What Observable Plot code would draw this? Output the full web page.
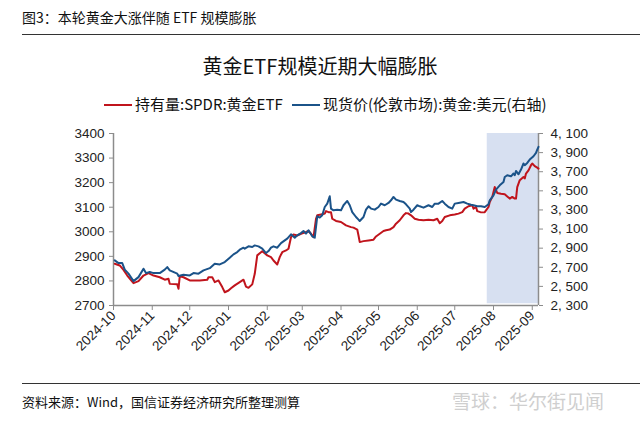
<!DOCTYPE html>
<html><head><meta charset="utf-8">
<script src="https://cdn.jsdelivr.net/npm/d3@7"></script>
<script src="https://cdn.jsdelivr.net/npm/@observablehq/plot@0.6"></script>
<style>
body{margin:0;background:#fff;width:640px;height:422px;position:relative;overflow:hidden;font-family:"Noto Sans CJK SC","Noto Sans",sans-serif;color:#111;}
#hdr{position:absolute;left:22px;top:7px;font-size:14px;line-height:20px;}
#hline{position:absolute;left:22px;top:34px;width:618px;border-top:1.5px solid #333;}
#ttl{position:absolute;left:0;width:640px;top:52px;text-align:center;font-size:20px;line-height:28px;}
.lg{position:absolute;top:94px;font-size:15px;line-height:20px;white-space:nowrap;}
.sw{display:inline-block;width:28px;height:0;border-top:2.5px solid;vertical-align:middle;margin-right:3px;position:relative;top:-1px;}
#chart{position:absolute;left:0;top:120px;}
#fline{position:absolute;left:22px;top:383px;width:618px;border-top:1.5px solid #333;}
#src{position:absolute;left:22px;top:392px;font-size:13px;line-height:20px;}
#wm{position:absolute;left:452px;top:389px;font-size:19px;line-height:24px;color:#cfcfcf;}
</style></head>
<body>
<div id="hdr"></div>
<div id="hline"></div>
<div id="ttl"></div>
<div class="lg" id="lg1" style="left:104px"></div>
<div class="lg" id="lg2" style="left:292px"></div>
<div id="chart"></div>
<div id="fline"></div>
<div id="src"></div>
<div id="wm"></div>
<script>
const headerText = "图3：本轮黄金大涨伴随 ETF 规模膨胀";
const titleText = "黄金ETF规模近期大幅膨胀";
const seriesNames = ["持有量:SPDR:黄金ETF", "现货价(伦敦市场):黄金:美元(右轴)"];
const seriesColors = ["#c0141c", "#1b5389"];
const sourceText = "资料来源：Wind，国信证券经济研究所整理测算";
const watermarkText = "雪球：华尔街见闻";

const xStart = "2024-10-01";
const xEnd = "2025-09-06";
const shadeStart = "2025-07-27";
const monthTicks = ["2024-10-01","2024-11-01","2024-12-01","2025-01-01","2025-02-01","2025-03-01","2025-04-01","2025-05-01","2025-06-01","2025-07-01","2025-08-01","2025-09-01"];
const leftTicks = [2700,2800,2900,3000,3100,3200,3300,3400];
const rightTicks = [2300,2500,2700,2900,3100,3300,3500,3700,3900,4100];

const holdDates = ["2024-10-02","2024-10-06","2024-10-09","2024-10-12","2024-10-17","2024-10-21","2024-10-25","2024-10-29","2024-11-02","2024-11-07","2024-11-11","2024-11-14","2024-11-15","2024-11-21","2024-11-22","2024-11-23","2024-11-26","2024-12-01","2024-12-09","2024-12-15","2024-12-16","2024-12-19","2024-12-21","2024-12-24","2024-12-27","2024-12-29","2025-01-01","2025-01-03","2025-01-06","2025-01-10","2025-01-13","2025-01-15","2025-01-17","2025-01-20","2025-01-22","2025-01-24","2025-01-28","2025-02-01","2025-02-04","2025-02-06","2025-02-09","2025-02-11","2025-02-13","2025-02-16","2025-02-18","2025-02-20","2025-02-22","2025-02-25","2025-02-28","2025-03-04","2025-03-06","2025-03-08","2025-03-10","2025-03-12","2025-03-13","2025-03-17","2025-03-19","2025-03-20","2025-03-22","2025-03-24","2025-03-25","2025-03-28","2025-04-01","2025-04-05","2025-04-09","2025-04-11","2025-04-14","2025-04-15","2025-04-16","2025-04-19","2025-04-23","2025-04-27","2025-04-29","2025-05-02","2025-05-05","2025-05-07","2025-05-10","2025-05-13","2025-05-15","2025-05-18","2025-05-21","2025-05-23","2025-05-25","2025-05-27","2025-05-30","2025-06-02","2025-06-06","2025-06-10","2025-06-14","2025-06-17","2025-06-19","2025-06-21","2025-06-23","2025-06-27","2025-07-01","2025-07-04","2025-07-07","2025-07-09","2025-07-12","2025-07-15","2025-07-16","2025-07-18","2025-07-19","2025-07-22","2025-07-25","2025-07-26","2025-07-28","2025-07-29","2025-07-31","2025-08-01","2025-08-02","2025-08-04","2025-08-07","2025-08-10","2025-08-12","2025-08-14","2025-08-16","2025-08-18","2025-08-19","2025-08-20","2025-08-22","2025-08-25","2025-08-26","2025-08-27","2025-08-29","2025-08-31","2025-09-01","2025-09-03","2025-09-05","2025-09-06"];
const holdValues = [2870,2863,2845,2822,2791,2799,2822,2832,2822,2815,2805,2809,2788,2786,2768,2819,2815,2802,2802,2805,2815,2815,2795,2802,2775,2754,2761,2770,2782,2795,2805,2777,2772,2786,2829,2904,2921,2904,2897,2883,2867,2897,2917,2924,2931,2978,2989,2985,2992,2999,3003,2992,2978,3053,3067,3071,3074,3084,3080,3080,3053,3044,3040,3026,3019,3017,3009,2985,2958,2962,2965,2968,2981,2992,3003,3006,3009,3019,3033,3047,3067,3076,3074,3067,3053,3049,3047,3049,3047,3053,3035,3044,3060,3067,3070,3074,3080,3094,3104,3108,3094,3101,3084,3079,3080,3087,3101,3121,3142,3162,3182,3158,3155,3153,3144,3135,3142,3135,3135,3182,3210,3223,3217,3237,3250,3271,3278,3267,3261,3257];

const spotDates = ["2024-10-02","2024-10-05","2024-10-08","2024-10-10","2024-10-13","2024-10-17","2024-10-21","2024-10-25","2024-10-27","2024-10-30","2024-11-02","2024-11-07","2024-11-11","2024-11-13","2024-11-15","2024-11-21","2024-11-22","2024-11-26","2024-12-01","2024-12-04","2024-12-08","2024-12-12","2024-12-17","2024-12-21","2024-12-25","2024-12-29","2025-01-02","2025-01-05","2025-01-08","2025-01-10","2025-01-13","2025-01-14","2025-01-17","2025-01-20","2025-01-22","2025-01-25","2025-01-28","2025-01-31","2025-02-02","2025-02-04","2025-02-06","2025-02-09","2025-02-12","2025-02-15","2025-02-17","2025-02-20","2025-02-23","2025-02-25","2025-02-28","2025-03-02","2025-03-04","2025-03-06","2025-03-09","2025-03-11","2025-03-13","2025-03-15","2025-03-17","2025-03-19","2025-03-21","2025-03-23","2025-03-24","2025-03-26","2025-03-29","2025-04-01","2025-04-03","2025-04-06","2025-04-08","2025-04-10","2025-04-13","2025-04-15","2025-04-16","2025-04-19","2025-04-21","2025-04-23","2025-04-25","2025-04-28","2025-05-01","2025-05-03","2025-05-06","2025-05-09","2025-05-11","2025-05-13","2025-05-15","2025-05-18","2025-05-21","2025-05-23","2025-05-26","2025-05-27","2025-05-29","2025-06-01","2025-06-03","2025-06-06","2025-06-10","2025-06-13","2025-06-15","2025-06-18","2025-06-21","2025-06-23","2025-06-26","2025-06-29","2025-07-01","2025-07-04","2025-07-08","2025-07-11","2025-07-14","2025-07-16","2025-07-19","2025-07-22","2025-07-25","2025-07-28","2025-07-29","2025-08-01","2025-08-03","2025-08-06","2025-08-09","2025-08-10","2025-08-12","2025-08-15","2025-08-17","2025-08-18","2025-08-19","2025-08-21","2025-08-23","2025-08-25","2025-08-26","2025-08-28","2025-08-30","2025-09-02","2025-09-04","2025-09-05","2025-09-06"];
const spotValues = [2772,2744,2744,2675,2633,2555,2597,2685,2639,2650,2639,2639,2675,2702,2667,2633,2608,2622,2615,2639,2633,2667,2691,2738,2730,2754,2800,2835,2859,2884,2905,2895,2919,2912,2929,2919,2895,2849,2870,2905,2919,2905,2953,2982,3000,3045,3010,3034,3058,3079,3052,3087,3024,3010,3233,3220,3244,3331,3366,3443,3314,3296,3303,3296,3349,3394,3349,3278,3226,3199,3184,3226,3303,3338,3314,3303,3331,3366,3349,3373,3401,3436,3408,3394,3383,3359,3314,3278,3303,3349,3338,3324,3349,3331,3366,3366,3394,3366,3331,3314,3366,3373,3383,3366,3354,3349,3338,3338,3331,3359,3401,3453,3513,3558,3593,3645,3663,3652,3681,3663,3708,3673,3723,3786,3768,3792,3827,3862,3897,3932,3960];

document.getElementById("hdr").textContent = headerText;
document.getElementById("ttl").textContent = titleText;
document.getElementById("src").textContent = sourceText;
document.getElementById("wm").textContent = watermarkText;
["lg1","lg2"].forEach((id,i)=>{
  const el = document.getElementById(id);
  const sw = document.createElement("span"); sw.className="sw"; sw.style.borderColor = seriesColors[i];
  el.appendChild(sw); el.appendChild(document.createTextNode(seriesNames[i]));
});

const toL = v => 2700 + (v - 2300) * 700 / 1800;
const fromL = y => 2300 + (y - 2700) * 1800 / 700;
const rfmt = v => d3.format(",")(Math.round(v / 10) * 10).replace(",", ", ");
const hold = holdDates.map((d,i)=>({date:new Date(d), value:holdValues[i]}));
const spot = spotDates.map((d,i)=>({date:new Date(d), value:toL(spotValues[i])}));
const x0 = new Date(xStart), x1 = new Date(xEnd);
const shade = [{a:new Date(shadeStart), b:x1, lo:2707, hi:3400}];

const chart = Plot.plot({
  width:640, height:250,
  marginTop:13, marginBottom:65, marginLeft:113, marginRight:102,
  style:{fontFamily:"'Liberation Sans', Arial, sans-serif", fontSize:"13.5px", color:"#222", background:"transparent"},
  x:{type:"utc", domain:[x0,x1]},
  y:{domain:[2700,3400]},
  marks:[
    Plot.rect(shade, {x1:"a", x2:"b", y1:"lo", y2:"hi", fill:"#d7e0f1"}),
    Plot.axisY({anchor:"left", ticks:leftTicks, tickFormat:d=>String(d), tickSize:4, tickPadding:5, stroke:"#8c8c8c", fill:"#222", label:null}),
    Plot.axisY({anchor:"right", ticks:rightTicks.map(toL), tickFormat:d=>rfmt(fromL(d)), tickSize:4, tickPadding:8, stroke:"#8c8c8c", fill:"#222", label:null}),
    Plot.axisX({ticks:monthTicks.map(d=>new Date(d)), tickFormat:d3.utcFormat("%Y-%m"), tickRotate:-45, tickSize:5, tickPadding:3, stroke:"#8c8c8c", fill:"#222", label:null}),
    Plot.ruleY([2700], {stroke:"#8c8c8c", strokeWidth:1.5}),
    Plot.ruleX([x0, x1], {stroke:"#8c8c8c", strokeWidth:1.5}),
    Plot.line(hold, {x:"date", y:"value", stroke:seriesColors[0], strokeWidth:2}),
    Plot.line(spot, {x:"date", y:"value", stroke:seriesColors[1], strokeWidth:2})
  ]
});
document.getElementById("chart").appendChild(chart);
</script>
</body></html>
